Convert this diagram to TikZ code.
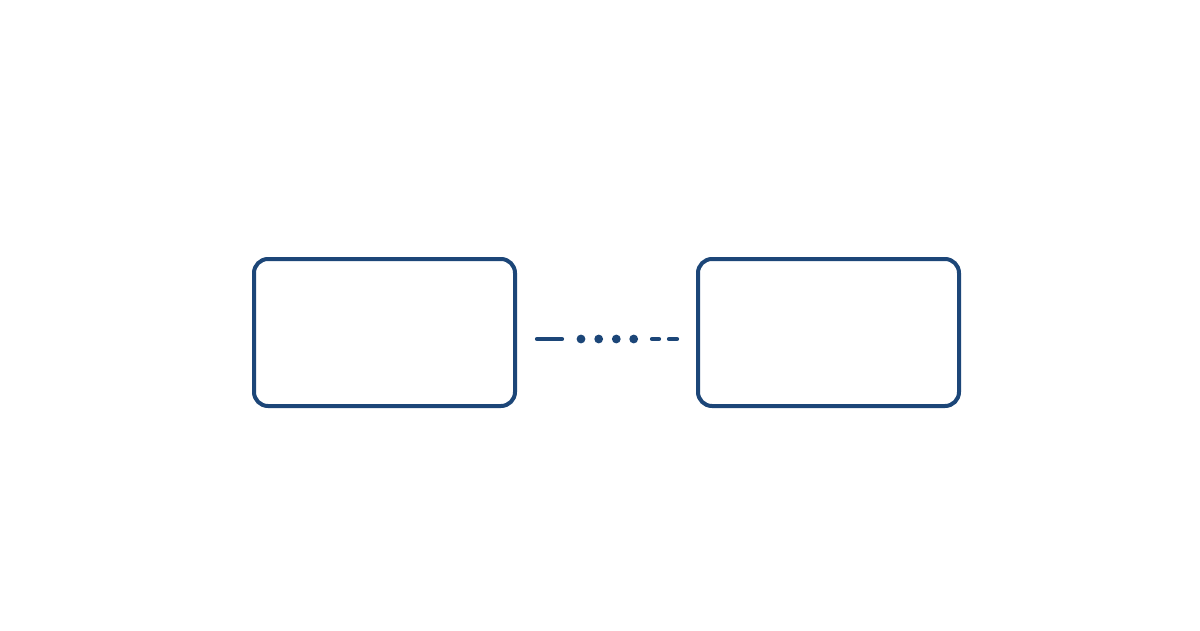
\documentclass[tikz,border=0pt]{standalone}
\usetikzlibrary{calc}
\definecolor{boxblue}{RGB}{28,70,120}
\tikzset{
  panel/.style={draw=boxblue, line width=4pt, rounded corners=14pt, minimum width=261pt, minimum height=147pt, inner sep=0pt, fill=white},
  seg/.style={draw=boxblue, line width=4.2pt, line cap=round},
  dotmark/.style={fill=boxblue}
}
\begin{document}
\begin{tikzpicture}[x=1pt,y=-1pt]
\useasboundingbox[fill=white] (0,0) rectangle (1200,630);
\node[panel] (a) at (384.5,332.5) {};
\node[panel] (b) at (828.5,332.5) {};
% connector from a to b, at y = 339
\coordinate (s) at ($(a.east)+(0,6.5)$);
\draw[seg] ($(s)+(20,0)$) -- ($(s)+(45,0)$);
\foreach \dx in {64,81.7,99.3,116.7}{
  \fill[dotmark] ($(s)+(\dx,0)$) circle (4.4pt);
}
\draw[seg] ($(s)+(135,0)$) -- ($(s)+(142,0)$);
\draw[seg] ($(s)+(152,0)$) -- ($(b.west)+(-19,6.5)$);
\end{tikzpicture}
\end{document}
